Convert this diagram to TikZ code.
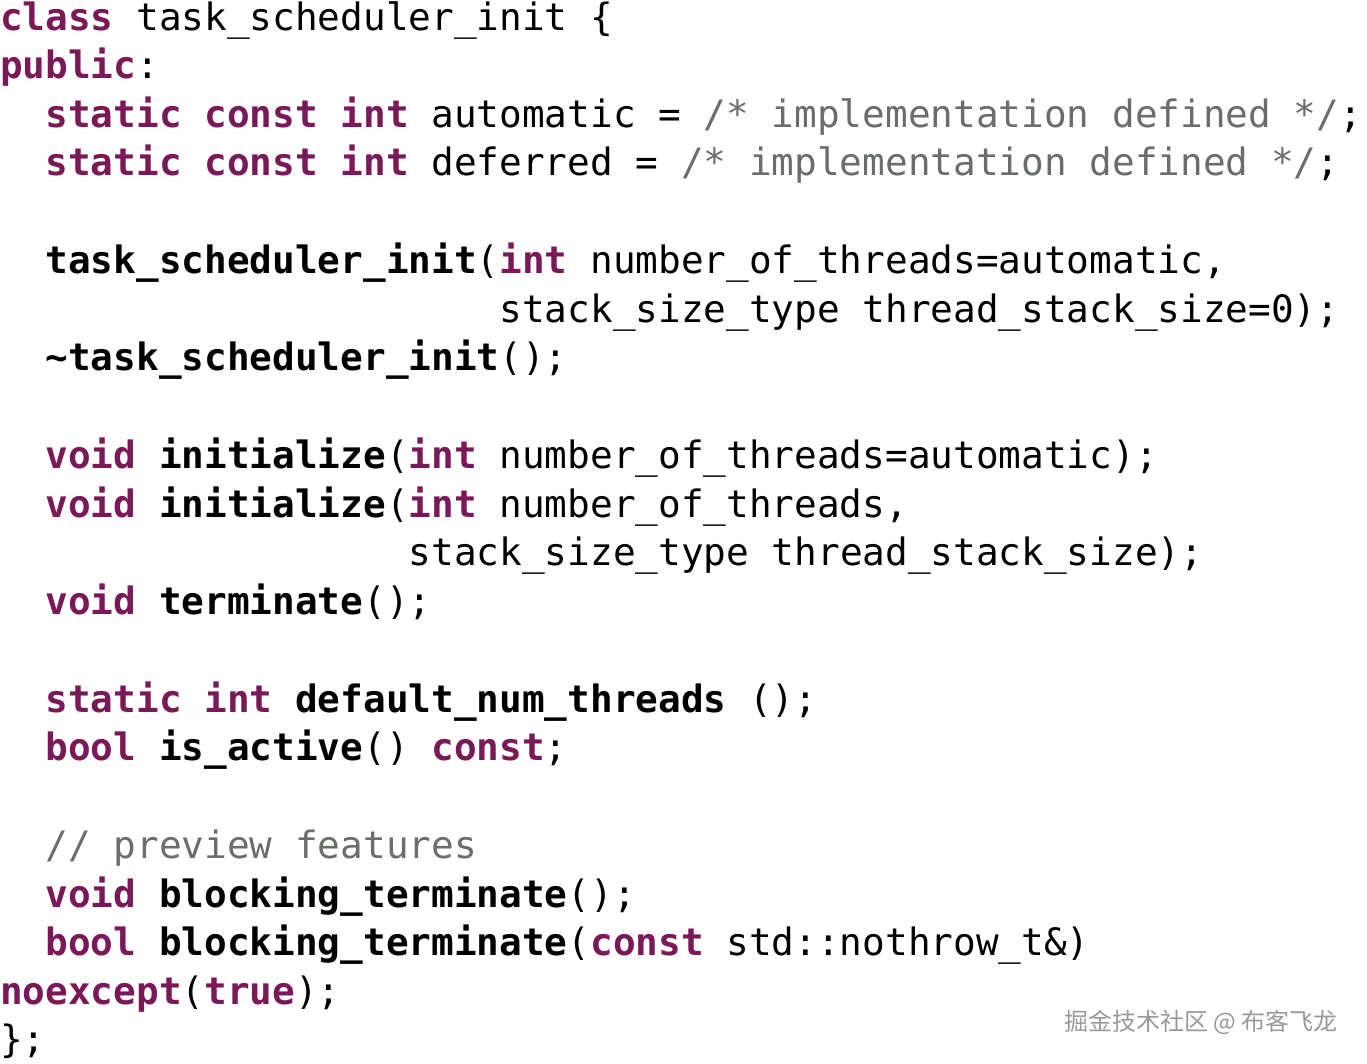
\documentclass[tikz,border=0pt]{standalone}
\usepackage{fontspec}
\setmonofont{DejaVu Sans Mono}
\newfontfamily\cjk{Noto Sans CJK SC}
\definecolor{kwcol}{RGB}{122,24,88}
\definecolor{cmcol}{RGB}{105,110,105}
\newcommand{\kw}[1]{\textcolor{kwcol}{\textbf{#1}}}
\newcommand{\fn}[1]{\textbf{#1}}
\newcommand{\cm}[1]{\textcolor{cmcol}{#1}}
\tikzset{codeline/.style={anchor=base west, inner sep=0pt,
    font=\ttfamily\fontsize{37.7}{49}\selectfont}}
\begin{document}
\begin{tikzpicture}[x=1pt, y=1pt]
                \useasboundingbox[fill=white] (0,0) rectangle (1367,-1063);

                \node[codeline] (l1) at (0,-30) {\kw{class} task\_scheduler\_init \{};
                \node[codeline] (l2) at (0,-78) {\kw{public}:};
                \node[codeline] (l3) at (45.4,-127) {\kw{static} \kw{const} \kw{int} automatic = \cm{/* implementation defined */};};
                \node[codeline] (l4) at (45.4,-175) {\kw{static} \kw{const} \kw{int} deferred = \cm{/* implementation defined */};};

                \node[codeline] (l5) at (45.4,-273) {\fn{task\_scheduler\_init}(\kw{int} number\_of\_threads=automatic,};
                \node[codeline] (l6) at (499.4,-322) {stack\_size\_type thread\_stack\_size=0);};
                \node[codeline] (l7) at (45.4,-370) {\fn{\textasciitilde task\_scheduler\_init}();};

                \node[codeline] (l8) at (45.4,-468) {\kw{void} \fn{initialize}(\kw{int} number\_of\_threads=automatic);};
                \node[codeline] (l9) at (45.4,-517) {\kw{void} \fn{initialize}(\kw{int} number\_of\_threads,};
                \node[codeline] (l10) at (408.6,-565) {stack\_size\_type thread\_stack\_size);};
                \node[codeline] (l11) at (45.4,-614) {\kw{void} \fn{terminate}();};

                \node[codeline] (l12) at (45.4,-712) {\kw{static} \kw{int} \fn{default\_num\_threads} ();};
                \node[codeline] (l13) at (45.4,-760) {\kw{bool} \fn{is\_active}() \kw{const};};

                \node[codeline] (l14) at (45.4,-858) {\cm{// preview features}};
                \node[codeline] (l15) at (45.4,-907) {\kw{void} \fn{blocking\_terminate}();};
                \node[codeline] (l16) at (45.4,-955) {\kw{bool} \fn{blocking\_terminate}(\kw{const} std::nothrow\_t\&)};
                \node[codeline] (l17) at (0,-1004) {\kw{noexcept}(\kw{true});};
                \node[codeline] (l18) at (0,-1052) {\};};

                \node[anchor=base east, inner sep=0pt, text=gray!80, font=\cjk\fontsize{24}{28}\selectfont] (mark) at (1338,-1030) {掘金技术社区 @ 布客飞龙};

\end{tikzpicture}
\end{document}
